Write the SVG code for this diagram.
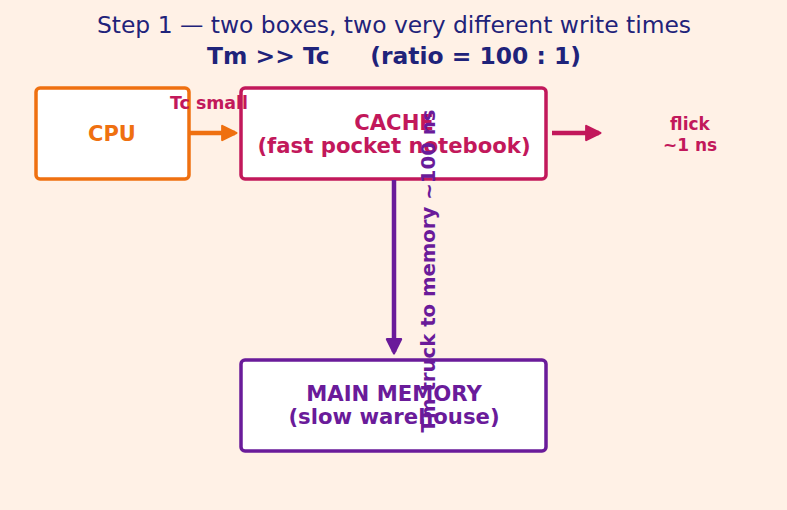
<svg xmlns="http://www.w3.org/2000/svg" width="787" height="510" viewBox="0 0 787 510">
<defs>
<style>
text{font-family:"DejaVu Sans","Noto Sans",sans-serif;text-anchor:middle}
.b{font-weight:bold}
.box{fill:#ffffff;stroke-width:3.5}
.ln{fill:none;stroke-width:4.5;stroke-linecap:butt}
.hd{stroke-width:1.5;stroke-linejoin:round}
</style>
<marker id="mo" viewBox="-1 -1 12 12" refX="9" refY="5" markerWidth="3.8" markerHeight="3.8" orient="auto" markerUnits="strokeWidth"><path class="hd" d="M0,0 L10,5 L0,10 Z" fill="#ef7010" stroke="#ef7010"/></marker>
<marker id="mm" viewBox="-1 -1 12 12" refX="9" refY="5" markerWidth="3.8" markerHeight="3.8" orient="auto" markerUnits="strokeWidth"><path class="hd" d="M0,0 L10,5 L0,10 Z" fill="#c2185b" stroke="#c2185b"/></marker>
<marker id="mp" viewBox="-1 -1 12 12" refX="9" refY="5" markerWidth="3.8" markerHeight="3.8" orient="auto" markerUnits="strokeWidth"><path class="hd" d="M0,0 L10,5 L0,10 Z" fill="#6a1b9a" stroke="#6a1b9a"/></marker>
</defs>
<rect width="787" height="510" fill="#fff1e6"/>
<text x="394" y="33" font-size="23.4" fill="#1f237a">Step 1 — two boxes, two very different write times</text>
<text x="394" y="64" font-size="23.4" class="b" fill="#1f237a" xml:space="preserve">Tm &gt;&gt; Tc     (ratio = 100 : 1)</text>
<g id="cpu">
<rect class="box" x="36" y="88" width="153" height="91" rx="4" stroke="#ef7010"/>
<text x="112" y="141" font-size="21" class="b" fill="#ef7010">CPU</text>
</g>
<g id="cache">
<rect class="box" x="241" y="88" width="305" height="91" rx="4" stroke="#c2185b"/>
<text x="394" y="130" font-size="21.2" class="b" fill="#c2185b">CACHE</text>
<text x="394" y="153" font-size="21.2" class="b" fill="#c2185b">(fast pocket notebook)</text>
</g>
<g id="memory">
<rect class="box" x="241" y="360" width="305" height="91" rx="4" stroke="#6a1b9a"/>
<text x="394" y="401" font-size="21.2" class="b" fill="#6a1b9a">MAIN MEMORY</text>
<text x="394" y="424" font-size="21.2" class="b" fill="#6a1b9a">(slow warehouse)</text>
</g>
<g id="connectors">
<line class="ln" x1="190" y1="133" x2="235" y2="133" stroke="#ef7010" marker-end="url(#mo)"/>
<line class="ln" x1="552" y1="133" x2="599" y2="133" stroke="#c2185b" marker-end="url(#mm)"/>
<line class="ln" x1="394" y1="180" x2="394" y2="352" stroke="#6a1b9a" marker-end="url(#mp)"/>
<text x="209" y="109" font-size="17.4" class="b" fill="#c2185b">Tc small</text>
<text x="690" y="130" font-size="17" class="b" fill="#c2185b">flick</text>
<text x="690" y="151" font-size="17" class="b" fill="#c2185b">~1 ns</text>
<text transform="translate(435,271) rotate(-90)" font-size="19.7" class="b" fill="#6a1b9a">Tm truck to memory  ~100 ns</text>
</g>
</svg>
